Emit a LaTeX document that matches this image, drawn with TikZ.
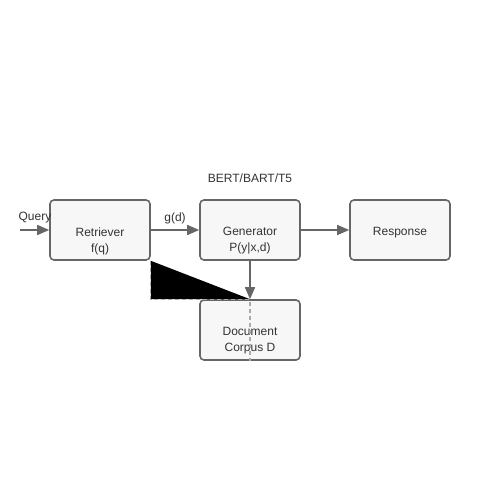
\documentclass[tikz,border=0pt]{standalone}
\usepackage{fontspec}
\setmainfont{Liberation Sans}
\usetikzlibrary{arrows.meta}
\definecolor{edgec}{HTML}{666666}
\definecolor{fillc}{HTML}{F7F7F7}
\definecolor{txtc}{HTML}{333333}
\definecolor{dashc}{HTML}{AAAAAA}
\begin{document}
\begin{tikzpicture}[x=1pt,y=-1pt,
  box/.style={draw=edgec,fill=fillc,line width=1.6pt,rounded corners=4pt,minimum width=100pt,minimum height=60pt,inner sep=0pt},
  lbl/.style={text=txtc,font=\fontsize{12}{16}\selectfont,inner sep=0pt,align=center},
  arr/.style={draw=edgec,line width=1.6pt,-{Triangle[length=12pt,width=10pt]}}]
\useasboundingbox (0,0) rectangle (500,500);
\node[box] (ret) at (100,230) {};
\node[box] (gen) at (250,230) {};
\node[box] (resp) at (400,230) {};
\node[box] (doc) at (250,330) {};
\node[lbl] (rett) at (100,241) {Retriever\\f(q)};
\node[lbl] (gent) at (250,241) {Generator\\P(y|x,d)};
\node[lbl] (respt) at (400,233) {Response};
\node[lbl] (doct) at (250,341) {Document\\Corpus D};
\coordinate (qin) at (20,230);
\node[lbl] (q) at (35,218) {Query};
\node[lbl] (gd) at (175,218) {g(d)};
\node[lbl] (bert) at (250,178) {BERT/BART/T5};
\draw[arr] (qin) -- (ret.west);
\draw[arr] (ret.east) -- (gen.west);
\draw[arr] (gen.east) -- (resp.west);
\fill[black] (ret.south east) -- (ret.south east |- doc.north) -- (doc.north) -- cycle;
\draw[dashc,line width=1.2pt,dash pattern=on 4pt off 3pt] (ret.south east) -- (ret.south east |- doc.north) -- (doc.north) -- (doc.south);
\draw[arr] (gen.south) -- (doc.north);
\end{tikzpicture}
\end{document}
